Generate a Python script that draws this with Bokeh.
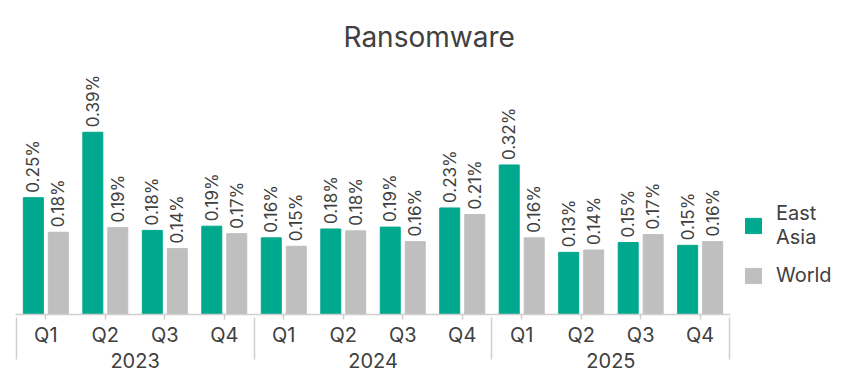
import math
from bokeh.plotting import figure
from bokeh.models import FactorRange, ColumnDataSource, Legend, LegendItem, Range1d
from bokeh.transform import dodge
from bokeh.core.properties import value
from bokeh.embed import file_html
from bokeh.resources import INLINE

years = ["2023", "2024", "2025"]
quarters = ["Q1", "Q2", "Q3", "Q4"]
east_asia = [0.250, 0.390, 0.180, 0.189, 0.164, 0.183, 0.187, 0.228, 0.320, 0.133, 0.154, 0.148]
world = [0.176, 0.186, 0.141, 0.173, 0.146, 0.179, 0.156, 0.214, 0.164, 0.138, 0.171, 0.156]
series_names = ["East\nAsia", "World"]

TEAL = "#00A88E"
GREY = "#BFBFBF"
TEXT = "#404040"
AXIS = "#CFCFCF"
FONT = "Inter"

factors = [(y, q) for y in years for q in quarters]
src = ColumnDataSource(dict(
    x=factors,
    ea=east_asia,
    w=world,
    ea_lbl=[f"{v:.2f}%" for v in east_asia],
    w_lbl=[f"{v:.2f}%" for v in world],
))

# blank edge groups (almost entirely padded away) so that the axis draws
# group separators at the outer edges as well
edge_factors = [("", " ")] + factors + [(" ", " ")]

p = figure(
    frame_width=715, frame_height=243,
    x_range=FactorRange(*edge_factors, range_padding=-0.99, range_padding_units="absolute",
                        group_padding=0, factor_padding=0),
    y_range=Range1d(0, 0.520),
    output_backend="svg", toolbar_location=None,
    y_axis_location=None,
    min_border_left=15, min_border_right=122, min_border_top=70, min_border_bottom=61,
)
p.outline_line_color = None
p.xgrid.visible = False
p.ygrid.visible = False

r1 = p.vbar(x=dodge("x", -0.21, range=p.x_range), top="ea", width=0.336, source=src,
            fill_color=TEAL, line_color=TEAL)
r2 = p.vbar(x=dodge("x", 0.21, range=p.x_range), top="w", width=0.336, source=src,
            fill_color=GREY, line_color=GREY)

for off, col, lbl in ((-0.21, "ea", "ea_lbl"), (0.21, "w", "w_lbl")):
    p.text(x=dodge("x", off, range=p.x_range), y=col, text=lbl, source=src,
           angle=math.pi / 2, text_align="left", text_baseline="middle",
           y_offset=-5, text_font=value(FONT), text_font_size="17px", text_color=TEXT)

ax = p.xaxis[0]
ax.axis_line_color = AXIS
ax.axis_line_width = 1.5
ax.major_tick_line_color = AXIS
ax.major_tick_line_width = 1.5
ax.major_tick_in = 0
ax.major_tick_out = 5
ax.major_label_standoff = 3
ax.major_label_text_font = FONT
ax.major_label_text_font_size = "20px"
ax.major_label_text_color = TEXT
ax.group_text_font = FONT
ax.group_text_font_size = "20px"
ax.group_text_font_style = "normal"
ax.group_text_color = TEXT
ax.separator_line_color = AXIS
ax.separator_line_width = 1.5

p.title.text = "Ransomware"
p.title.align = "left"
p.title.offset = 328
p.title.standoff = 35
p.title.text_font = FONT
p.title.text_font_size = "28px"
p.title.text_font_style = "normal"
p.title.text_color = TEXT

legend = Legend(items=[LegendItem(label=series_names[0], renderers=[r1]),
                       LegendItem(label=series_names[1], renderers=[r2])],
                location=(13, 27), orientation="vertical",
                glyph_width=20, glyph_height=19, label_standoff=13,
                label_text_font=FONT, label_text_font_size="20px", label_text_color=TEXT,
                border_line_color=None, background_fill_alpha=0, padding=0, margin=0, spacing=14)
p.add_layout(legend, "right")

open("out.html", "w").write(file_html(p, INLINE))
